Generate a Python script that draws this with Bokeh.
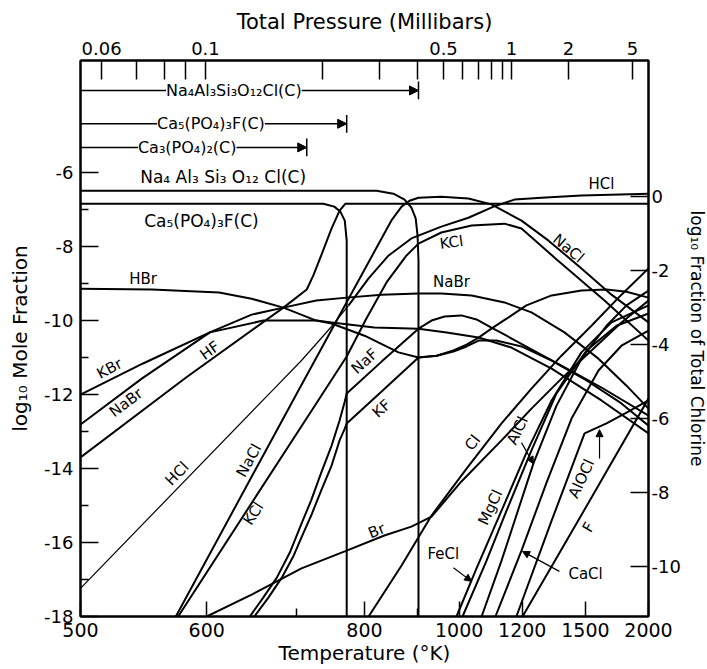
import math
import numpy as np
from bokeh.plotting import figure
from bokeh.layouts import column, row
from bokeh.models import (Range1d, LinearAxis, FixedTicker, CustomJSTickFormatter,
                          Label, Arrow, NormalHead, Spacer)
from bokeh.embed import file_html
from bokeh.resources import INLINE

# ---------------- data: temperature (K) and log10 mole fraction ----------------
sodalite_T = [500, 821, 852, 874, 888, 897, 901, 903, 903]
sodalite_v = [-6.49, -6.49, -6.57, -6.73, -6.95, -7.24, -7.70, -8.38, -18.0]

apatite_T = [500, 736, 752, 761, 768, 771, 771]
apatite_v = [-6.84, -6.84, -6.92, -7.05, -7.30, -7.84, -18.0]

hf_T = [500, 581, 683, 713, 722, 733, 748, 760, 769, 2000]
hf_v = [-13.70, -11.54, -9.65, -9.16, -8.78, -8.24, -7.51, -7.03, -6.84, -6.84]

hbr_T = [500, 552, 612, 646, 683, 726, 748, 800, 862, 903, 944, 985, 1020, 1054,
         1093, 1143, 1216, 1323, 1477, 1637, 1792, 2000]
hbr_v = [-9.14, -9.16, -9.24, -9.41, -9.65, -10.0, -10.08, -10.41, -10.86, -11.0,
         -10.95, -10.81, -10.65, -10.46, -10.22, -9.95, -9.59, -9.32, -9.19, -9.16,
         -9.22, -9.38]

kbr_T = [500, 545, 603, 659, 726, 748, 817, 903, 968, 1054, 1160, 1323, 1602, 2000]
kbr_v = [-12.0, -11.16, -10.32, -10.0, -10.0, -10.05, -10.19, -10.22, -10.32, -10.46,
         -10.73, -11.30, -12.16, -13.05]

nabr_T = [500, 544, 603, 646, 683, 726, 771, 830, 903, 955, 1034, 1136, 1236, 1385,
          1582, 1792, 2000]
nabr_v = [-12.81, -11.57, -10.32, -9.84, -9.65, -9.46, -9.38, -9.30, -9.27, -9.27,
          -9.32, -9.51, -9.78, -10.32, -11.03, -11.76, -12.38]

naf_T = [644, 659, 675, 691, 706, 719, 733, 748, 760, 768, 771, 830, 903, 932, 963,
         1006, 1048, 1093, 1143, 1236, 1370, 1602, 2000]
naf_v = [-18.0, -17.49, -16.95, -16.27, -15.49, -14.86, -14.11, -13.38, -12.70, -12.19,
         -11.97, -11.11, -10.22, -10.0, -9.89, -9.86, -9.97, -10.19, -10.41, -10.78,
         -11.22, -11.81, -12.57]

kf_T = [649, 665, 681, 696, 706, 719, 733, 748, 760, 768, 771, 830, 903, 944, 985,
        1020, 1054, 1109, 1197, 1323, 1507, 1750, 2000]
kf_v = [-18.0, -17.49, -16.95, -16.35, -15.86, -15.27, -14.59, -13.92, -13.24, -12.92,
        -12.78, -11.92, -11.0, -10.95, -10.84, -10.70, -10.54, -10.54, -10.70, -11.08,
        -11.62, -12.24, -12.84]

nacl_T = [572, 702, 774, 848, 868, 884, 903, 955, 1025, 1093, 1197, 1309, 1477, 1673, 2000]
nacl_v = [-18.0, -11.89, -9.41, -7.30, -6.92, -6.76, -6.68, -6.65, -6.70, -6.86, -7.30,
          -7.84, -8.59, -9.30, -10.05]

kcl_T = [574, 726, 771, 803, 839, 878, 903, 955, 1034, 1136, 1197, 1337, 1623, 2000]
kcl_v = [-18.0, -12.24, -10.97, -9.95, -8.97, -8.24, -7.92, -7.62, -7.43, -7.38, -7.51,
         -8.30, -9.46, -10.54]

hcl_T = [500, 671, 706, 748, 774, 807, 843, 888, 955, 1025, 1100, 1171, 1278, 1477, 2000]
hcl_v = [-17.24, -11.86, -11.08, -10.16, -9.59, -8.86, -8.24, -7.78, -7.46, -7.22, -6.92,
         -6.73, -6.68, -6.62, -6.57]

br_T = [600, 646, 706, 768, 835, 888, 932, 1006, 1126, 1236, 1370, 1537, 1750, 2000]
br_v = [-18.0, -17.41, -16.70, -16.24, -15.81, -15.57, -15.30, -14.35, -13.24, -12.38,
        -11.57, -10.81, -10.05, -9.46]

cl_T = [807, 868, 932, 1020, 1126, 1236, 1370, 1537, 1750, 2000]
cl_v = [-18.0, -16.62, -15.27, -14.0, -12.78, -11.84, -10.95, -10.14, -9.30, -8.59]

fecl_T = [993, 1048, 1126, 1216, 1323, 1477, 1673, 2000]
fecl_v = [-18.0, -16.70, -15.14, -13.57, -12.16, -10.86, -10.05, -9.59]

mgcl_T = [1009, 1078, 1143, 1236, 1346, 1507, 1711, 2000]
mgcl_v = [-18.0, -16.49, -15.14, -13.51, -11.97, -10.81, -10.14, -9.81]

alcl_T = [1063, 1126, 1244, 1346, 1477, 1637, 1792, 2000]
alcl_v = [-18.0, -16.49, -13.86, -12.30, -11.03, -10.14, -9.59, -9.19]

cacl_T = [1106, 1197, 1300, 1422, 1582, 1750, 2000]
cacl_v = [-18.0, -16.22, -14.38, -12.65, -11.35, -10.68, -10.27]

alocl_T = [1178, 1323, 1495, 1637, 1792, 2000]
alocl_v = [-18.0, -15.41, -13.05, -12.78, -12.49, -12.16]

f_T = [1201, 1370, 1602, 2000]
f_v = [-18.0, -16.19, -14.32, -12.11]

# axis ticks
temp_ticks = [500, 600, 800, 1000, 1200, 1500, 2000]
temp_minor = [700, 900]
pressure_labels = ["0.06", "0.1", "0.5", "1", "2", "5"]
pressure_label_T = [514.3, 598.8, 960.3, 1160.3, 1405.9, 1844.1]
pressure_minor_T = [539.9, 562.4, 580.5, 734.8, 826.2, 900.9, 1008.9, 1053.8, 1093.3, 1129.2]
mole_ticks = [-18, -16, -14, -12, -10, -8, -6]
mole_minor = [-17, -15, -13, -11, -9, -7]
chlorine_ticks = [-10, -8, -6, -4, -2, 0]
total_cl = -6.65   # log10 mole fraction of total chlorine

# condensate stability ranges (upper arrows)
condensates = [("Na₄Al₃Si₃O₁₂Cl(C)", 903, -3.78, 627),
               ("Ca₅(PO₄)₃F(C)", 771, -4.68, 604),
               ("Ca₃(PO₄)₂(C)", 713, -5.32, 582)]

curve_labels = [
    ("Na₄ Al₃ Si₃ O₁₂ Cl(C)", 616, -6.13, 0, 17),
    ("Ca₅(PO₄)₃F(C)", 595, -7.30, 0, 17),
    ("HBr", 545, -8.87, 0, 15),
    ("KBr", 520, -11.30, 28, 15),
    ("NaBr", 532, -12.22, 37, 15),
    ("HF", 603, -10.81, 36, 15),
    ("HCl", 573, -14.14, 46, 15),
    ("NaCl", 643, -13.78, 61, 15),
    ("KCl", 648, -15.22, 57, 15),
    ("NaF", 800, -11.10, 42, 15),
    ("KF", 830, -12.38, 42, 15),
    ("Br", 821, -15.68, 22, 15),
    ("Cl", 1037, -13.30, 52, 15),
    ("FeCl", 960, -16.30, 0, 15),
    ("MgCl", 1090, -15.05, 65, 15),
    ("AlCl", 1182, -12.97, 65, 15),
    ("CaCl", 1501, -16.84, 0, 15),
    ("AlOCl", 1477, -14.27, 65, 15),
    ("F", 1519, -15.59, 60, 15),
    ("KCl", 980, -7.89, 8, 15),
    ("NaBr", 980, -8.97, 0, 15),
    ("NaCl", 1406, -8.05, -40, 15),
    ("HCl", 1602, -6.32, 0, 15),
]

pointer_arrows = [(985, -16.68, 1034, -17.05),
                  (1197, -13.30, 1244, -13.87),
                  (1360, -16.78, 1201, -16.24),
                  (1589, -13.73, 1589, -12.95)]


def X(T):
    return -1000.0 / np.asarray(T, dtype=float)


def xs(T):
    return float(-1000.0 / T)


FONT = "DejaVu Sans"
Y_TOP = -2.97

p = figure(frame_width=568, frame_height=556, output_backend="svg", toolbar_location=None,
           x_range=Range1d(xs(500), xs(2000)), y_range=Range1d(-18, Y_TOP),
           x_axis_location=None, y_axis_location=None,
           min_border_left=5, min_border_right=5, min_border_top=5, min_border_bottom=5)
p.grid.visible = False
p.outline_line_color = "black"
p.outline_line_width = 2
p.background_fill_color = "white"
p.border_fill_color = "white"
p.extra_y_ranges = {"cl": Range1d(-18 - total_cl, Y_TOP - total_cl)}

hyphen_fmt = "return tick < 0 ? '-' + String(Math.abs(tick)) : String(tick);"

xb = LinearAxis(ticker=FixedTicker(ticks=list(X(temp_ticks)), minor_ticks=list(X(temp_minor))),
                formatter=CustomJSTickFormatter(code="return String(Math.round(-1000/tick));"),
                axis_label="Temperature (°K)")
xt = LinearAxis(ticker=FixedTicker(ticks=list(X(pressure_label_T)), minor_ticks=list(X(pressure_minor_T))),
                formatter=CustomJSTickFormatter(args=dict(pos=list(X(pressure_label_T)), lab=pressure_labels),
                                                code="for (let i=0;i<pos.length;i++){if(Math.abs(pos[i]-tick)<1e-6){return lab[i];}} return '';"),
                axis_label="Total Pressure (Millibars)")
yl = LinearAxis(ticker=FixedTicker(ticks=mole_ticks, minor_ticks=mole_minor),
                formatter=CustomJSTickFormatter(code=hyphen_fmt),
                axis_label="log₁₀ Mole Fraction")
yr = LinearAxis(y_range_name="cl", ticker=FixedTicker(ticks=chlorine_ticks, minor_ticks=[]),
                formatter=CustomJSTickFormatter(code=hyphen_fmt),
                axis_label="log₁₀ Fraction of Total Chlorine")

for ax in (xb, xt, yl, yr):
    ax.axis_line_width = 2
    ax.axis_line_color = "black"
    ax.major_tick_line_width = 1.5
    ax.minor_tick_line_width = 1.5
    ax.major_tick_line_color = "black"
    ax.minor_tick_line_color = "black"
    ax.major_tick_out = 0
    ax.minor_tick_out = 0
    ax.major_label_text_font = FONT
    ax.major_label_text_font_size = "18px"
    ax.major_label_text_color = "black"
    ax.axis_label_text_font = FONT
    ax.axis_label_text_font_style = "normal"
    ax.axis_label_text_color = "black"
    ax.axis_label_text_font_size = "18px"

xb.major_tick_in = 15
xb.minor_tick_in = 8
xb.major_label_standoff = 6
xb.axis_label_standoff = 1
xb.major_label_text_font_size = "19px"
xb.axis_label_text_font_size = "20px"
xt.major_tick_in = 19
xt.minor_tick_in = 19
xt.major_label_standoff = 6
xt.axis_label_standoff = 5
xt.axis_label_text_font_size = "21px"
yl.major_tick_in = 18
yl.minor_tick_in = 8
yl.major_label_standoff = 7
yl.axis_label_standoff = 9
yl.axis_label_text_font_size = "20px"
yr.major_tick_in = 18
yr.major_label_standoff = 3
yr.axis_label_standoff = 3
yr.axis_label_text_font_size = "17px"

p.add_layout(xb, "below")
p.add_layout(xt, "above")
p.add_layout(yl, "left")
p.add_layout(yr, "right")

# curves
curves = [(sodalite_T, sodalite_v), (apatite_T, apatite_v), (hf_T, hf_v),
          (hbr_T, hbr_v), (kbr_T, kbr_v), (nabr_T, nabr_v), (naf_T, naf_v),
          (kf_T, kf_v), (nacl_T, nacl_v), (kcl_T, kcl_v), (br_T, br_v),
          (cl_T, cl_v), (fecl_T, fecl_v), (mgcl_T, mgcl_v), (alcl_T, alcl_v),
          (cacl_T, cacl_v), (alocl_T, alocl_v), (f_T, f_v)]
for T, v in curves:
    p.line(X(T), v, line_color="black", line_width=2)

# HCl: thin at low temperature, heavier above
p.line(X(hcl_T[:5]), hcl_v[:5], line_color="black", line_width=1.2)
p.line(X(hcl_T[4:]), hcl_v[4:], line_color="black", line_width=2)

# condensate stability arrows
for name, t_end, yv, t_lab in condensates:
    p.add_layout(Arrow(end=NormalHead(size=9, fill_color="black", line_color="black"),
                       x_start=xs(500), y_start=yv, x_end=xs(t_end), y_end=yv,
                       line_width=1.5, line_color="black"))
    p.segment(x0=[xs(t_end)], y0=[yv - 0.24], x1=[xs(t_end)], y1=[yv + 0.24],
              line_color="black", line_width=1.5)
    p.add_layout(Label(x=xs(t_lab), y=yv, text=name, text_align="center",
                       text_baseline="middle", text_font=FONT, text_font_size="16px",
                       text_color="black", background_fill_color="white",
                       background_fill_alpha=1.0))

# pointer arrows for labels
for t0, v0, t1, v1 in pointer_arrows:
    p.add_layout(Arrow(end=NormalHead(size=7, fill_color="black", line_color="black"),
                       x_start=xs(t0), y_start=v0, x_end=xs(t1), y_end=v1,
                       line_width=1.2, line_color="black"))

for text, T, v, ang, size in curve_labels:
    p.add_layout(Label(x=xs(T), y=v, text=text, angle=math.radians(ang),
                       text_align="center", text_baseline="middle",
                       text_font=FONT, text_font_size=f"{size}px", text_color="black"))

page = column(Spacer(height=6), row(Spacer(width=5), p))
open("out.html", "w").write(file_html(page, INLINE))
